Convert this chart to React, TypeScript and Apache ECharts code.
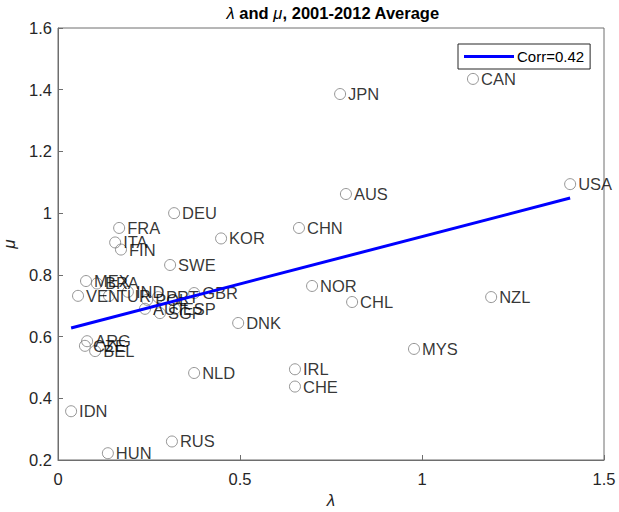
import React, { useEffect, useRef } from "react";
import * as echarts from "echarts";

const countries = ["CAN","JPN","USA","AUS","DEU","CHN","FRA","KOR","ITA","FIN","SWE","MEX","BRA","VEN","TUR","IND","POL","PRT","AUT","SGP","ESP","GBR","DNK","NOR","CHL","NZL","MYS","IRL","CHE","NLD","ARG","CZE","BEL","IDN","RUS","HUN"];
const lambdaVals = [1.140,0.775,1.407,0.791,0.319,0.662,0.168,0.448,0.157,0.173,0.308,0.077,0.107,0.055,0.140,0.192,0.245,0.275,0.239,0.280,0.321,0.374,0.495,0.698,0.808,1.190,0.978,0.651,0.651,0.374,0.080,0.074,0.102,0.036,0.313,0.137];
const muVals = [1.435,1.386,1.094,1.062,1.000,0.952,0.952,0.918,0.905,0.882,0.832,0.780,0.772,0.732,0.732,0.745,0.719,0.728,0.690,0.676,0.690,0.741,0.644,0.764,0.712,0.728,0.560,0.494,0.438,0.482,0.585,0.570,0.553,0.358,0.260,0.222];
const trendX = [0.036, 1.407];
const trendY = [0.628, 1.049];
const xTicks = [0, 0.5, 1, 1.5];
const yTicks = [0.2, 0.4, 0.6, 0.8, 1, 1.2, 1.4, 1.6];

const FONT = "Liberation Sans, Arial, sans-serif";

export default function App() {
  const ref = useRef<HTMLDivElement>(null);
  useEffect(() => {
    if (!ref.current) return;
    const chart = echarts.init(ref.current, null, { renderer: "svg" });
    const scatterData = countries.map((c, i) => ({ name: c, value: [lambdaVals[i], muVals[i]] }));
    const lineData = trendX.map((x, i) => [x, trendY[i]]);
    chart.setOption({
      animation: false,
      backgroundColor: "#ffffff",
      textStyle: { fontFamily: FONT },
      title: {
        text: "{i|λ} and {i|μ}, 2001-2012 Average",
        left: 328,
        top: -1,
        textAlign: "center",
        textStyle: {
          fontFamily: FONT,
          fontSize: 16.5,
          fontWeight: "bold",
          color: "#000",
          rich: {
            i: { fontFamily: FONT, fontSize: 16.5, fontStyle: "italic", fontWeight: "normal", color: "#000" },
          },
        },
      },
      legend: {
        left: 458,
        top: 44,
        orient: "vertical",
        data: [{ name: "Corr=0.42", icon: "rect" }],
        backgroundColor: "#fff",
        borderColor: "#262626",
        borderWidth: 1,
        borderRadius: 0,
        padding: [5, 6, 5, 6],
        itemWidth: 50,
        itemHeight: 3,
        itemGap: 4,
        textStyle: { fontFamily: FONT, fontSize: 15, color: "#000", padding: [0, 0, 0, -2] },
      },
      grid: {
        left: 58, right: 15, top: 28, bottom: 52,
        outerBoundsMode: "none",
        containLabel: false,
        show: true, borderColor: "#6e6e6e", borderWidth: 1, backgroundColor: "transparent",
      },
      xAxis: {
        type: "value",
        min: xTicks[0],
        max: xTicks[xTicks.length - 1],
        interval: 0.5,
        name: "λ",
        nameLocation: "middle",
        nameGap: 31,
        nameTextStyle: { fontFamily: FONT, fontSize: 17, fontStyle: "italic", color: "#262626" },
        axisLine: { show: true, lineStyle: { color: "#6e6e6e" } },
        axisTick: { show: true, inside: true, length: 5, lineStyle: { color: "#6e6e6e" } },
        axisLabel: { fontFamily: FONT, fontSize: 16.5, color: "#262626", margin: 10 },
        splitLine: { show: false },
      },
      yAxis: {
        type: "value",
        min: yTicks[0],
        max: yTicks[yTicks.length - 1],
        interval: 0.2,
        name: "μ",
        nameLocation: "middle",
        nameGap: 38,
        nameRotate: 90,
        nameTextStyle: { fontFamily: FONT, fontSize: 17, fontStyle: "italic", color: "#262626" },
        axisLine: { show: true, lineStyle: { color: "#6e6e6e" } },
        axisTick: { show: true, inside: true, length: 5, lineStyle: { color: "#6e6e6e" } },
        axisLabel: { fontFamily: FONT, fontSize: 16.5, color: "#262626", margin: 6 },
        splitLine: { show: false },
      },
      series: [
        {
          type: "scatter",
          data: scatterData,
          symbol: "circle",
          symbolSize: 11,
          itemStyle: { color: "transparent", borderColor: "#7a7a7a", borderWidth: 1 },
          label: {
            show: true,
            position: "right",
            distance: 2,
            formatter: "{b}",
            fontFamily: FONT,
            fontSize: 16.5,
            color: "#000",
          },
          labelLayout: { hideOverlap: false },
          z: 2,
        },
        {
          name: "Corr=0.42",
          type: "line",
          data: lineData,
          symbol: "none",
          lineStyle: { color: "#0000ff", width: 3 },
          itemStyle: { color: "#0000ff" },
          z: 3,
        },
      ],
    });
    return () => chart.dispose();
  }, []);
  return <div ref={ref} style={{ width: 619, height: 512, position: "absolute", left: 0, top: 0 }} />;
}
